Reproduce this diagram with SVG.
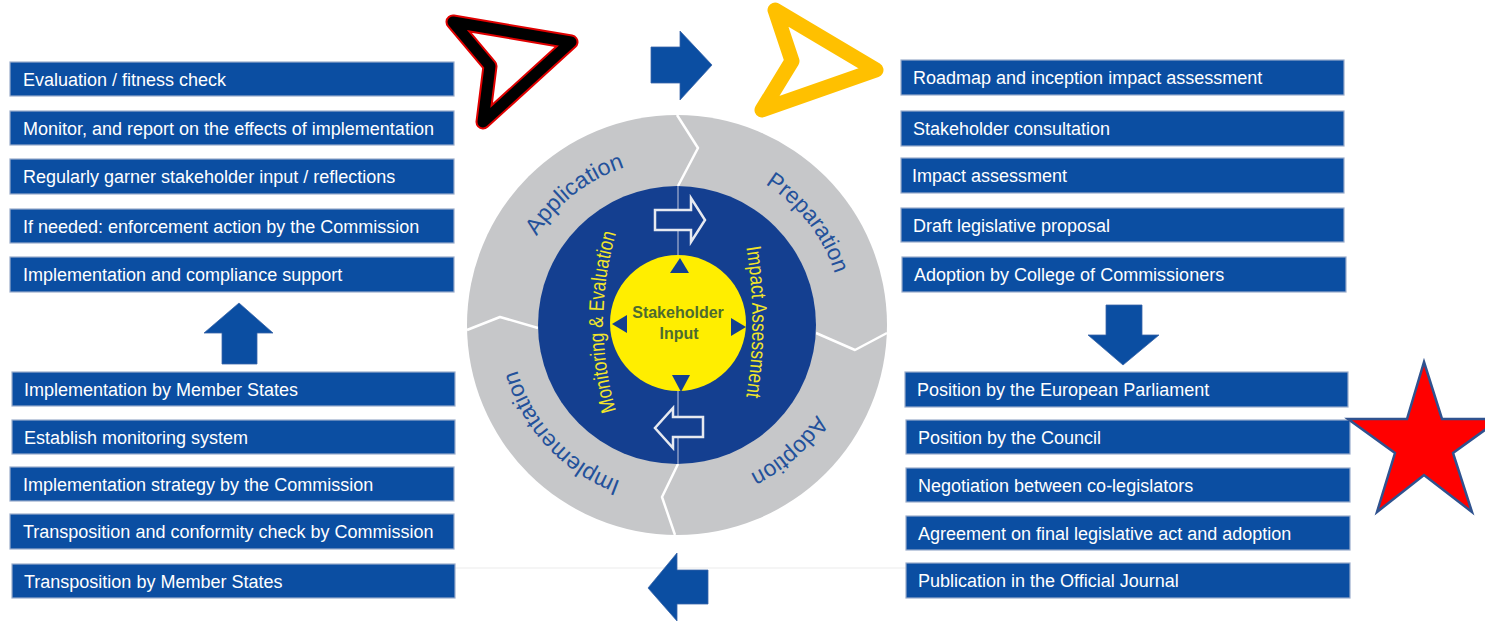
<svg xmlns="http://www.w3.org/2000/svg" width="1485" height="622" viewBox="0 0 1485 622">
  <defs>
    <style>
      .box rect { fill: #0b4ea2; stroke: #9aaccb; stroke-width: 1.2; }
      .box text { fill: #ffffff; font-family: "Liberation Sans", Arial, sans-serif; font-size: 18px; }
      .block { fill: #0b4ea2; stroke: #3a66a8; stroke-width: 0.8; }
      .phase { fill: #23519b; font-family: "Liberation Sans", Arial, sans-serif; font-size: 23px; }
      .ring-label { fill: #f2e62a; font-family: "Liberation Sans", Arial, sans-serif; font-size: 21px; }
      .seam { fill: none; stroke: #ffffff; stroke-width: 2.5; stroke-linejoin: round; }
      .hollow { fill: #143f90; stroke: #e6e9f0; stroke-width: 2.5; stroke-linejoin: miter; }
      .tri { fill: #143f90; }
    </style>
    <path id="phasePath" d="M843,325 A166,166 0 1,1 511,325 A166,166 0 1,1 843,325"/>
    <path id="leftArc" d="M617,414 A318,318 0 0,1 617,230"/>
    <path id="rightArc" d="M746,246 A459,459 0 0,1 746,398"/>
  </defs>

  <rect width="1485" height="622" fill="#ffffff"/>
  <line x1="455" y1="568" x2="906" y2="568" stroke="#ebebeb" stroke-width="1"/>

  <!-- central cycle -->
  <g id="cycle">
    <circle cx="677" cy="325" r="210" fill="#c6c7c9"/>
    <path class="seam" d="M677,115 L698,148 L678,186"/>
    <path class="seam" d="M816,333 L855,350 L887,333"/>
    <path class="seam" d="M678,464 L662,497 L675,535"/>
    <path class="seam" d="M467,330 L500,317 L538,328"/>
    <text class="phase"><textPath href="#phasePath" startOffset="672" text-anchor="middle" textLength="114" lengthAdjust="spacingAndGlyphs">Application</textPath></text>
    <text class="phase"><textPath href="#phasePath" startOffset="933" text-anchor="middle" textLength="116" lengthAdjust="spacingAndGlyphs">Preparation</textPath></text>
    <text class="phase"><textPath href="#phasePath" startOffset="140" text-anchor="middle" textLength="90" lengthAdjust="spacingAndGlyphs">Adoption</textPath></text>
    <text class="phase"><textPath href="#phasePath" startOffset="397" text-anchor="middle" textLength="158" lengthAdjust="spacingAndGlyphs">Implementation</textPath></text>

    <circle cx="677" cy="325" r="139" fill="#143f90"/>
    <line x1="678" y1="186" x2="678" y2="464" stroke="#8a9cc4" stroke-width="1.5"/>
    <text class="ring-label"><textPath href="#leftArc" startOffset="50%" text-anchor="middle" textLength="180" lengthAdjust="spacingAndGlyphs">Monitoring &amp; Evaluation</textPath></text>
    <text class="ring-label"><textPath href="#rightArc" startOffset="50%" text-anchor="middle" textLength="150" lengthAdjust="spacingAndGlyphs">Impact Assessment</textPath></text>
    <polygon class="hollow" points="655,210 691,210 691,198 705,220 691,242 691,230 655,230"/>
    <polygon class="hollow" points="703,417 673,417 673,408 655,428 673,448 673,437 703,437"/>

    <circle cx="678" cy="323" r="68" fill="#ffee00"/>
    <polygon class="tri" points="680,258 670,273 689,273"/>
    <polygon class="tri" points="672,375 690,375 681,392"/>
    <polygon class="tri" points="612,324 627,315 627,333"/>
    <polygon class="tri" points="746,327 731,318 731,336"/>
    <text x="678" y="318" text-anchor="middle" font-family="Liberation Sans, Arial, sans-serif" font-size="16" font-weight="bold" fill="#4d6b30">Stakeholder</text>
    <text x="679" y="339" text-anchor="middle" font-family="Liberation Sans, Arial, sans-serif" font-size="16" font-weight="bold" fill="#4d6b30">Input</text>
  </g>

  <!-- left column: application steps -->
  <g id="app-evaluation" class="box"><rect x="10" y="62" width="444" height="34"/><text x="23" y="86">Evaluation / fitness check</text></g>
  <g id="app-monitor" class="box"><rect x="10" y="111" width="444" height="34"/><text x="23" y="135">Monitor, and report on the effects of implementation</text></g>
  <g id="app-stakeholder" class="box"><rect x="10" y="159" width="444" height="35"/><text x="23" y="183">Regularly garner stakeholder input / reflections</text></g>
  <g id="app-enforcement" class="box"><rect x="10" y="209" width="444" height="34"/><text x="23" y="233">If needed: enforcement action by the Commission</text></g>
  <g id="app-support" class="box"><rect x="10" y="257" width="444" height="35"/><text x="23" y="281">Implementation and compliance support</text></g>

  <!-- left column: implementation steps -->
  <g id="impl-member-states" class="box"><rect x="12" y="372" width="443" height="34"/><text x="24" y="396">Implementation by Member States</text></g>
  <g id="impl-monitoring" class="box"><rect x="12" y="420" width="443" height="34"/><text x="24" y="444">Establish monitoring system</text></g>
  <g id="impl-strategy" class="box"><rect x="10" y="467" width="444" height="34"/><text x="23" y="491">Implementation strategy by the Commission</text></g>
  <g id="impl-conformity" class="box"><rect x="10" y="514" width="444" height="35"/><text x="23" y="538">Transposition and conformity check by Commission</text></g>
  <g id="impl-transposition" class="box"><rect x="12" y="564" width="443" height="34"/><text x="24" y="588">Transposition by Member States</text></g>

  <!-- right column: preparation steps -->
  <g id="prep-roadmap" class="box"><rect x="901" y="60" width="443" height="35"/><text x="913" y="84">Roadmap and inception impact assessment</text></g>
  <g id="prep-consultation" class="box"><rect x="901" y="111" width="443" height="35"/><text x="913" y="135">Stakeholder consultation</text></g>
  <g id="prep-impact" class="box"><rect x="901" y="158" width="443" height="35"/><text x="912" y="182">Impact assessment</text></g>
  <g id="prep-draft" class="box"><rect x="901" y="208" width="443" height="34"/><text x="913" y="232">Draft legislative proposal</text></g>
  <g id="prep-college" class="box"><rect x="902" y="257" width="444" height="35"/><text x="914" y="281">Adoption by College of Commissioners</text></g>

  <!-- right column: adoption steps -->
  <g id="adopt-parliament" class="box"><rect x="905" y="372" width="443" height="35"/><text x="917" y="396">Position by the European Parliament</text></g>
  <g id="adopt-council" class="box"><rect x="906" y="420" width="444" height="34"/><text x="918" y="444">Position by the Council</text></g>
  <g id="adopt-negotiation" class="box"><rect x="906" y="468" width="444" height="34"/><text x="918" y="492">Negotiation between co-legislators</text></g>
  <g id="adopt-agreement" class="box"><rect x="906" y="516" width="444" height="34"/><text x="918" y="540">Agreement on final legislative act and adoption</text></g>
  <g id="adopt-publication" class="box"><rect x="906" y="563" width="444" height="35"/><text x="918" y="587">Publication in the Official Journal</text></g>

  <!-- block arrows linking the stages -->
  <g id="connectors">
    <polygon class="block" points="651,47 680,47 680,31 712,65 680,100 680,83 651,83"/>
    <polygon class="block" points="1106,305 1142,305 1142,335 1159,335 1123,365 1088,335 1106,335"/>
    <polygon class="block" points="648,588 677,553 677,570 708,570 708,604 677,604 677,621"/>
    <polygon class="block" points="239,303 273,333 257,333 257,364 222,364 222,333 204,333"/>
  </g>

  <!-- highlight marks -->
  <g id="dart-black">
    <polygon points="453,22 571,42 483,122 490,66" fill="none" stroke="#e00000" stroke-width="15" stroke-linejoin="round"/>
    <polygon points="453,22 571,42 483,122 490,66" fill="none" stroke="#000000" stroke-width="11" stroke-linejoin="round"/>
  </g>
  <g id="dart-yellow">
    <polygon points="775,10 876,70 762,110 792,61" fill="none" stroke="#ffc000" stroke-width="15" stroke-linejoin="round"/>
  </g>
  <g id="star">
    <polygon points="1424,362 1442,419 1500,419 1453,453 1472,512 1424,475 1377,512 1395,453 1348,419 1407,419" fill="#ff0000" stroke="#2f528f" stroke-width="2.5" stroke-linejoin="miter"/>
  </g>
</svg>
